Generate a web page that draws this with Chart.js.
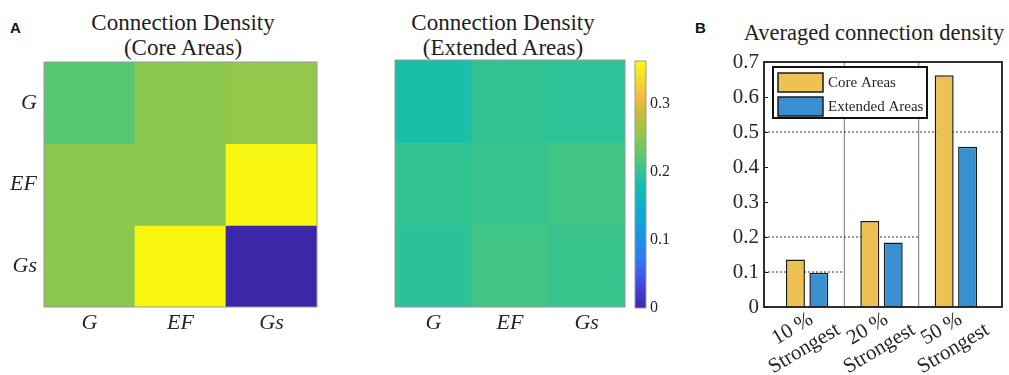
<!DOCTYPE html>
<html lang="en">
<head>
  <meta charset="UTF-8">
  <title>Connection density</title>
  <script src="https://cdn.jsdelivr.net/npm/chart.js"></script>
  <style>
    body { margin: 0; background: #fff; }
    .figura { position: relative; width: 1009px; height: 375px; overflow: hidden; font-family: 'Liberation Serif', 'Times New Roman', serif; color: #1e1e1e; }
    .figura canvas, .painel, .titulo, .rotulo { position: absolute; }
    .painel { font-family: 'Liberation Sans', Arial, sans-serif; font-weight: bold; font-size: 15px; line-height: 15px; color: #111; }
    .titulo { text-align: center; font-size: 23px; line-height: 25px; white-space: nowrap; }
    .rotulo { font-size: 21px; line-height: 23px; text-align: center; white-space: nowrap; color: #262626;
              transform: translate(-50%, -50%) rotate(-31deg); }
  </style>
</head>
<body>
  <div class="figura" id="figura">
    <div class="painel" style="left:10px; top:20px;">A</div>
    <div class="painel" style="left:695px; top:20px;">B</div>

    <div class="titulo" style="left:83px; top:10px; width:200px;">Connection Density<br>(Core Areas)</div>
    <div class="titulo" style="left:403px; top:10px; width:200px;">Connection Density<br>(Extended Areas)</div>
    <div class="titulo" style="left:724px; top:20px; width:300px; font-size:22.5px;">Averaged connection density</div>

    <canvas id="mapaCore" width="330" height="375" style="left:0; top:0;"></canvas>
    <canvas id="mapaExtended" width="300" height="375" style="left:330px; top:0;"></canvas>
    <canvas id="barraCores" width="45" height="375" style="left:630px; top:0;"></canvas>
    <canvas id="graficoBarras" width="319" height="375" style="left:690px; top:0;"></canvas>
  </div>

  <script>
    // dados
    const linhas = ['G', 'EF', 'Gs'];
    const colunas = ['G', 'EF', 'Gs'];
    const densidadeCore = [
      [0.221, 0.250, 0.255],
      [0.250, 0.250, 0.360],
      [0.252, 0.360, 0.000]
    ];
    const densidadeExtended = [
      [0.185, 0.199, 0.197],
      [0.199, 0.203, 0.209],
      [0.196, 0.209, 0.204]
    ];
    const escalaMax = 0.363;
    const ticksBarraCores = [0, 0.1, 0.2, 0.3];

    const grupos = [['10 %', 'Strongest'], ['20 %', 'Strongest'], ['50 %', 'Strongest']];
    const mediaCore = [0.136, 0.246, 0.662];
    const mediaExtended = [0.098, 0.184, 0.458];
    const limiares = [0.1, 0.2, 0.5];

    const serif = "'Liberation Serif', 'Times New Roman', serif";
    const corTexto = '#262626';

    // colormap parecido com o parula do matlab
    const paradasParula = [
      [0.00, [62, 38, 168]],
      [0.10, [70, 72, 230]],
      [0.20, [45, 125, 240]],
      [0.30, [25, 150, 225]],
      [0.40, [10, 175, 205]],
      [0.50, [20, 190, 175]],
      [0.60, [80, 200, 120]],
      [0.70, [145, 200, 75]],
      [0.80, [210, 186, 60]],
      [0.87, [250, 190, 60]],
      [0.93, [245, 220, 40]],
      [1.00, [249, 251, 14]]
    ];

    function parula(t) {
      t = Math.max(0, Math.min(1, t));
      for (let i = 1; i < paradasParula.length; i++) {
        const [t1, c1] = paradasParula[i];
        const [t0, c0] = paradasParula[i - 1];
        if (t <= t1) {
          const f = (t - t0) / (t1 - t0);
          const c = c0.map((v, k) => Math.round(v + (c1[k] - v) * f));
          return `rgb(${c[0]}, ${c[1]}, ${c[2]})`;
        }
      }
      return 'rgb(249, 251, 14)';
    }

    const moldura = {
      id: 'moldura',
      afterDraw(chart, args, o) {
        const { ctx, chartArea: a } = chart;
        ctx.save();
        ctx.strokeStyle = o.color;
        ctx.lineWidth = o.width;
        ctx.strokeRect(a.left, a.top, a.right - a.left, a.bottom - a.top);
        if (o.ticksY) {
          ctx.lineWidth = 1;
          chart.scales.y.ticks.forEach(t => {
            const y = Math.round(chart.scales.y.getPixelForValue(t.value)) + 0.5;
            ctx.beginPath();
            ctx.moveTo(a.left, y);
            ctx.lineTo(a.left + o.ticksY, y);
            ctx.stroke();
          });
        }
        ctx.restore();
      }
    };

    const legendaCaixa = {
      id: 'legendaCaixa',
      afterDatasetsDraw(chart, args, o) {
        const { ctx, chartArea: a } = chart;
        const x = a.left + o.x, y = a.top + o.y;
        ctx.save();
        ctx.fillStyle = '#fff';
        ctx.fillRect(x, y, o.width, o.height);
        ctx.strokeStyle = '#111';
        ctx.lineWidth = 2;
        ctx.strokeRect(x, y, o.width, o.height);
        ctx.font = `15px ${serif}`;
        ctx.textBaseline = 'middle';
        chart.data.datasets.filter(d => d.type !== 'line').forEach((d, i) => {
          const sy = y + 6 + i * 24;
          ctx.fillStyle = d.backgroundColor;
          ctx.fillRect(x + 5, sy, 45, 19);
          ctx.strokeStyle = d.borderColor;
          ctx.lineWidth = 1.5;
          ctx.strokeRect(x + 5, sy, 45, 19);
          ctx.fillStyle = corTexto;
          ctx.fillText(d.label, x + 55, sy + 10);
        });
        ctx.restore();
      }
    };

    function mapaDeCalor(id, matriz, padding, mostrarY) {
      return new Chart(document.getElementById(id), {
        type: 'bar',
        data: {
          labels: colunas,
          datasets: matriz.map((linha, i) => ({
            label: linhas[i],
            data: linha.map(() => 1),
            backgroundColor: linha.map(v => parula(v / escalaMax)),
            borderWidth: 0,
            barPercentage: 1,
            categoryPercentage: 1
          }))
        },
        options: {
          responsive: false,
          animation: false,
          layout: { padding: padding },
          plugins: {
            legend: { display: false },
            tooltip: { enabled: false },
            moldura: { color: '#9a9a9a', width: 1 }
          },
          scales: {
            x: {
              stacked: true,
              grid: { display: false, drawTicks: false },
              border: { display: false },
              ticks: { color: corTexto, font: { family: serif, size: 22, style: 'italic' }, padding: 3 },
              afterFit: s => { s.height = 68; }
            },
            y: {
              stacked: true,
              reverse: true,
              min: 0,
              max: 3,
              display: mostrarY,
              grid: { display: false, drawTicks: false },
              border: { display: false },
              afterBuildTicks: s => { s.ticks = linhas.map((_, i) => ({ value: i + 0.5 })); },
              ticks: {
                color: corTexto,
                font: { family: serif, size: 22, style: 'italic' },
                padding: 7,
                callback: v => linhas[Math.floor(v)]
              },
              afterFit: s => { s.width = 44; }
            }
          }
        },
        plugins: [moldura]
      });
    }

    mapaDeCalor('mapaCore', densidadeCore, { top: 62, right: 13 }, true);
    mapaDeCalor('mapaExtended', densidadeExtended, { top: 60, left: 21, right: 5 }, false);

    // barra de cores
    new Chart(document.getElementById('barraCores'), {
      type: 'bar',
      data: {
        labels: [''],
        datasets: [{
          data: [escalaMax],
          backgroundColor: c => {
            const a = c.chart.chartArea;
            if (!a) return null;
            const g = c.chart.ctx.createLinearGradient(0, a.bottom, 0, a.top);
            paradasParula.forEach(([t, cor]) => g.addColorStop(t, `rgb(${cor.join(',')})`));
            return g;
          },
          borderWidth: 0,
          barPercentage: 1,
          categoryPercentage: 1
        }]
      },
      options: {
        responsive: false,
        animation: false,
        layout: { padding: { left: 5, top: 61, bottom: 67 } },
        plugins: {
          legend: { display: false },
          tooltip: { enabled: false },
          moldura: { color: '#9a9a9a', width: 1 }
        },
        scales: {
          x: { display: false },
          y: {
            position: 'right',
            min: 0,
            max: escalaMax,
            grid: { display: false, drawTicks: false },
            border: { display: false },
            afterBuildTicks: s => { s.ticks = ticksBarraCores.map(v => ({ value: v })); },
            ticks: { color: corTexto, font: { family: serif, size: 16 }, padding: 4 },
            afterFit: s => { s.width = 29; }
          }
        }
      },
      plugins: [moldura]
    });

    // grafico de barras B
    const xMin = 0.42, xMax = 3.62;
    const linhasRef = [];
    limiares.forEach((v, i) => {
      linhasRef.push({
        type: 'line',
        data: [{ x: xMin, y: v }, { x: i + 1.5 > 3 ? xMax : i + 1.5, y: v }],
        borderColor: '#333',
        borderWidth: 1,
        borderDash: [2, 2],
        pointRadius: 0,
        order: 2
      });
    });
    grupos.slice(1).forEach((_, i) => {
      linhasRef.push({
        type: 'line',
        data: [{ x: i + 1.5, y: 0 }, { x: i + 1.5, y: 0.7 }],
        borderColor: '#777',
        borderWidth: 1,
        pointRadius: 0,
        order: 2
      });
    });

    const graficoBarras = new Chart(document.getElementById('graficoBarras'), {
      type: 'bar',
      data: {
        datasets: [
          {
            label: 'Core Areas',
            data: mediaCore.map((v, i) => ({ x: i + 1, y: v })),
            backgroundColor: '#edc152',
            borderColor: '#1a1a1a',
            borderWidth: 1.5,
            categoryPercentage: 0.63,
            barPercentage: 0.81,
            order: 1
          },
          {
            label: 'Extended Areas',
            data: mediaExtended.map((v, i) => ({ x: i + 1, y: v })),
            backgroundColor: '#3990d0',
            borderColor: '#1a1a1a',
            borderWidth: 1.5,
            categoryPercentage: 0.63,
            barPercentage: 0.81,
            order: 1
          },
          ...linhasRef
        ]
      },
      options: {
        responsive: false,
        animation: false,
        layout: { padding: { top: 62, right: 7 } },
        plugins: {
          legend: { display: false },
          tooltip: { enabled: false },
          moldura: { color: '#1a1a1a', width: 1.8, ticksY: 4 },
          legendaCaixa: { x: 9, y: 5, width: 154, height: 51 }
        },
        scales: {
          x: {
            type: 'linear',
            offset: false,
            min: xMin,
            max: xMax,
            grid: { display: false, drawTicks: false, offset: false },
            border: { display: false },
            afterBuildTicks: s => { s.ticks = grupos.map((_, i) => ({ value: i + 1 })); },
            ticks: { display: false },
            afterFit: s => { s.height = 68; }
          },
          y: {
            min: 0,
            max: 0.7,
            grid: { display: false, drawTicks: false },
            border: { display: false },
            ticks: { stepSize: 0.1, color: corTexto, font: { family: serif, size: 21 }, padding: 5 },
            afterFit: s => { s.width = 74; }
          }
        }
      },
      plugins: [moldura, legendaCaixa]
    });

    // rotulos inclinados do eixo x (linhas centralizadas, como no matlab), posicionados pela escala
    const figura = document.getElementById('figura');
    const canvasB = document.getElementById('graficoBarras');
    const escalaX = graficoBarras.scales.x;
    escalaX.ticks.forEach(t => {
      const div = document.createElement('div');
      div.className = 'rotulo';
      div.innerHTML = grupos[Math.round(t.value) - 1].join('<br>');
      div.style.left = (canvasB.offsetLeft + escalaX.getPixelForValue(t.value) - 9) + 'px';
      div.style.top = (graficoBarras.chartArea.bottom + 31) + 'px';
      figura.appendChild(div);
    });
  </script>
</body>
</html>
